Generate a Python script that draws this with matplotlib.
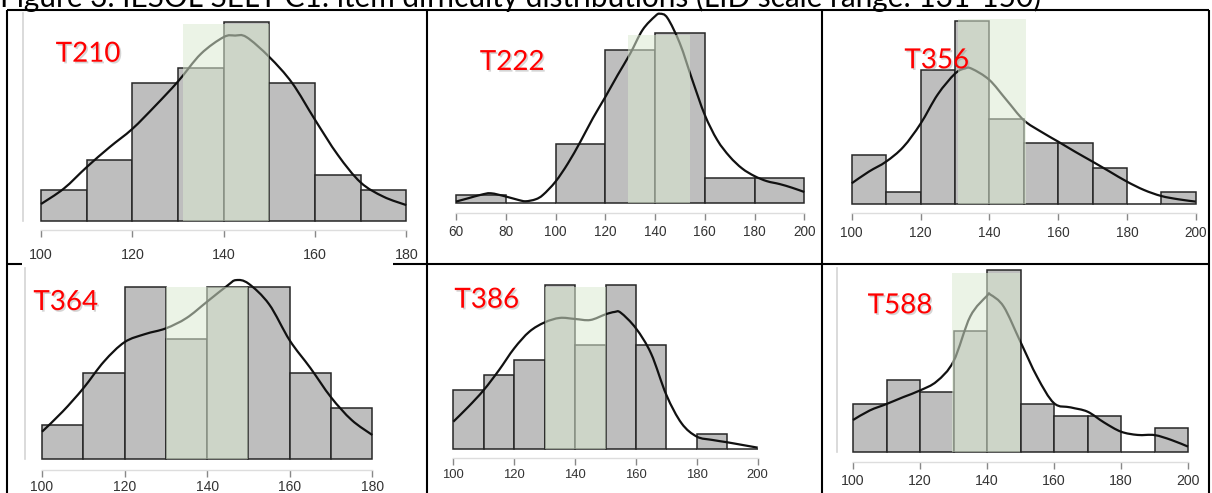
import numpy as np
import matplotlib.pyplot as plt
import matplotlib.patheffects as pe
from matplotlib.path import Path
from matplotlib.patches import PathPatch, Rectangle
from matplotlib.lines import Line2D

# ---- data ----
title = 'Figure 3. IESOL SELT C1: item difficulty distributions (LID scale range: 131-150)'
names = ['T210', 'T222', 'T356', 'T364', 'T386', 'T588']

edges_t210 = [100, 110, 120, 130, 140, 150, 160, 170, 180]
counts_t210 = [2, 4, 9, 10, 13, 9, 3, 2]
edges_t222 = [60, 80, 100, 120, 140, 160, 180, 200]
counts_t222 = [1, 0, 7, 18, 20, 3, 3]
edges_t356 = [100, 110, 120, 130, 140, 150, 160, 170, 180, 190, 200]
counts_t356 = [4, 1, 11, 15, 7, 5, 5, 3, 0, 1]
edges_t364 = [100, 110, 120, 130, 140, 150, 160, 170, 180]
counts_t364 = [2, 5, 10, 7, 10, 10, 5, 3]
edges_t386 = [100, 110, 120, 130, 140, 150, 160, 170, 180, 190, 200]
counts_t386 = [4, 5, 6, 11, 7, 11, 7, 0, 1, 0]
edges_t588 = [100, 110, 120, 130, 140, 150, 160, 170, 180, 190, 200]
counts_t588 = [4, 6, 5, 10, 15, 4, 3, 3, 0, 2]

# density curves (scaled to counts)
dx_t210 = [100, 105, 110, 115, 120, 125, 130, 135, 140, 142.5, 145, 150, 155, 160, 165, 170, 175, 180]
dy_t210 = [1.09, 2.1, 3.5, 4.8, 6.0, 7.5, 9.1, 10.9, 12.0, 12.1, 12.0, 10.7, 9.0, 6.6, 4.3, 2.5, 1.57, 1.02]
dx_t222 = [60, 65, 70, 74, 80, 85, 88, 92, 95, 100, 105, 110, 115, 120, 125, 130, 135, 140, 142,
           145, 150, 155, 160, 165, 170, 175, 180, 185, 190, 195, 200]
dy_t222 = [0.2, 0.6, 1.0, 1.18, 0.8, 0.4, 0.24, 0.47, 1.0, 2.55, 4.7, 7.25, 10.0, 12.5, 15.1, 17.6, 20.4,
           22.0, 22.3, 21.8, 18.8, 14.5, 10.4, 7.45, 5.5, 4.1, 3.2, 2.6, 2.27, 1.84, 1.33]
dx_t356 = [100, 105, 110, 115, 120, 125, 130, 133, 135, 140, 145, 150, 155, 160, 165, 170, 175, 180,
           185, 190, 195, 200]
dy_t356 = [1.72, 2.68, 3.5, 4.7, 6.6, 9.0, 10.7, 11.15, 11.1, 10.2, 8.55, 6.9, 5.96, 5.14, 4.3, 3.5,
           2.68, 1.86, 1.17, 0.68, 0.41, 0.22]
dx_t364 = [100, 105, 110, 115, 120, 125, 130, 135, 140, 145, 147, 150, 155, 160, 165, 170, 175, 180]
dy_t364 = [1.6, 2.77, 4.12, 5.67, 6.8, 7.27, 7.6, 8.2, 9.15, 10.1, 10.4, 10.2, 9.0, 6.9, 5.3, 3.6, 2.28, 1.41]
dx_t386 = [100, 105, 110, 115, 120, 125, 130, 135, 140, 145, 150, 153, 155, 160, 165, 170, 175, 180,
           185, 190, 195, 200]
dy_t386 = [1.85, 2.86, 3.97, 5.3, 6.76, 7.88, 8.5, 8.8, 8.73, 8.66, 9.04, 9.2, 9.15, 8.1, 6.4, 3.64,
           1.74, 0.85, 0.63, 0.47, 0.29, 0.11]
dx_t588 = [100, 105, 110, 115, 120, 125, 130, 135, 140, 141, 145, 150, 155, 160, 165, 170, 175, 180,
           185, 190, 195, 200]
dy_t588 = [2.66, 3.45, 3.98, 4.55, 5.1, 5.85, 7.5, 11.2, 12.9, 13.0, 12.0, 9.1, 6.2, 4.05, 3.7, 3.35,
           2.45, 1.7, 1.43, 1.42, 1.02, 0.47]

# highlighted LID range (low, high, height in counts)
band_t210 = [131, 150, 12.85]
band_t222 = [129.3, 154, 19.8]
band_t356 = [130.8, 150.7, 15.2]
band_t364 = [130, 150, 9.98]
band_t386 = [130, 150, 10.85]
band_t588 = [129.7, 150, 14.75]

ticks_t210 = [100, 120, 140, 160, 180]
ticks_t222 = [60, 80, 100, 120, 140, 160, 180, 200]
ticks_t356 = [100, 120, 140, 160, 180, 200]
ticks_t364 = [100, 120, 140, 160, 180]
ticks_t386 = [100, 120, 140, 160, 180, 200]
ticks_t588 = [100, 120, 140, 160, 180, 200]

edges = [edges_t210, edges_t222, edges_t356, edges_t364, edges_t386, edges_t588]
counts = [counts_t210, counts_t222, counts_t356, counts_t364, counts_t386, counts_t588]
dens_x = [dx_t210, dx_t222, dx_t356, dx_t364, dx_t386, dx_t588]
dens_y = [dy_t210, dy_t222, dy_t356, dy_t364, dy_t386, dy_t588]
bands = [band_t210, band_t222, band_t356, band_t364, band_t386, band_t588]
ticks = [ticks_t210, ticks_t222, ticks_t356, ticks_t364, ticks_t386, ticks_t588]

# ---- layout in pixels ----
W, H = 1212, 493
# first tick x, last tick x, baseline y, px per count, top y, axis gap, left line x, label size, pad
layout = [
    (41.0, 406.3, 220.7, 15.3, 11, 9.3, 23, 10.3, 8.0),
    (456.0, 804.3, 203.3, 8.5, 11, 10.0, None, 9.8, 4.0),
    (851.7, 1195.7, 204.3, 12.2, 11, 8.7, None, 9.8, 5.0),
    (42.0, 372.3, 459.3, 17.23, 266, 10.7, 25, 10.0, 2.8),
    (453.3, 757.7, 449.3, 14.93, 266, 9.0, None, 9.4, 3.0),
    (853.0, 1188.0, 452.3, 12.13, 266, 10.0, 836.7, 10.2, 4.0),
]
# label centre x, label baseline y
name_pos = [(88, 61.7), (512, 70), (936.7, 68.3), (65.7, 310), (486.7, 307.7), (900, 313.3)]


def fx(x):
    return x / W


def fy(y):
    return 1 - y / H


def smooth_path(xs, ys):
    # catmull-rom through the read points, drawn as cubic beziers
    pts = np.column_stack([xs, ys]).astype(float)
    verts = [pts[0]]
    codes = [Path.MOVETO]
    for i in range(len(pts) - 1):
        p0 = pts[max(i - 1, 0)]
        p1, p2 = pts[i], pts[i + 1]
        p3 = pts[min(i + 2, len(pts) - 1)]
        verts += [p1 + (p2 - p0) / 6, p2 - (p3 - p1) / 6, p2]
        codes += [Path.CURVE4] * 3
    return Path(verts, codes)


fig = plt.figure(figsize=(W / 100, H / 100), dpi=100)

for i in range(6):
    x0, x1, base, ppc, top, gap, lline, lsize, pad = layout[i]
    ax = fig.add_axes([fx(x0), fy(base), (x1 - x0) / W, (base - top) / H])
    ax.set_xlim(ticks[i][0], ticks[i][-1])
    ax.set_ylim(0, (base - top) / ppc)
    ax.patch.set_alpha(0)

    e = edges[i]
    ax.bar(e[:-1], counts[i], width=np.diff(e), align='edge', color='#bebebe',
           edgecolor='#262626', linewidth=1.1, zorder=2, clip_on=False)
    ax.add_patch(PathPatch(smooth_path(dens_x[i], dens_y[i]), fill=False, edgecolor='#111111',
                           linewidth=1.6, zorder=3, clip_on=False))
    lo, hi, bt = bands[i]
    ax.add_patch(Rectangle((lo, 0), hi - lo, bt, facecolor='#dae9d1', alpha=0.54,
                           linewidth=0, zorder=5, clip_on=False))

    for s in ['top', 'right']:
        ax.spines[s].set_visible(False)
    ax.spines['bottom'].set_position(('outward', gap * 0.72))
    ax.spines['bottom'].set_bounds(ticks[i][0], ticks[i][-1])
    ax.spines['bottom'].set_color('#dddddd')
    ax.spines['bottom'].set_linewidth(1.0)
    if lline is None:
        ax.spines['left'].set_visible(False)
    else:
        ax.spines['left'].set_position(('outward', (x0 - lline) * 0.72))
        ax.spines['left'].set_bounds(0, (base - top - 2) / ppc)
        ax.spines['left'].set_color('#d4d4d4')
        ax.spines['left'].set_linewidth(1.2)
    ax.set_xticks(ticks[i])
    ax.set_xticklabels([str(t) for t in ticks[i]])
    ax.tick_params(axis='x', direction='out', length=4.7, width=1.0, color='#888888',
                   labelsize=lsize, labelcolor='#333333', pad=pad)
    for lab in ax.get_xticklabels():
        lab.set_family('Liberation Sans')
    ax.tick_params(axis='y', left=False, labelleft=False)

    nx, ny = name_pos[i]
    fig.text(fx(nx), fy(ny), names[i], color='#ff0000', fontsize=20, family='Lato',
             ha='center', va='baseline', zorder=10,
             path_effects=[pe.SimplePatchShadow(offset=(1.2, -1.2), shadow_rgbFace='#888888', alpha=0.35),
                           pe.Normal()])

# table borders
border = dict(color='black', linewidth=1.5, solid_capstyle='butt')
fig.add_artist(Line2D([fx(7), fx(1209)], [fy(9.5), fy(9.5)], **border))
fig.add_artist(Line2D([fx(7), fx(22)], [fy(263.5), fy(263.5)], **border))
fig.add_artist(Line2D([fx(393), fx(1209)], [fy(263.5), fy(263.5)], **border))
for xv in [7, 427, 822, 1209]:
    fig.add_artist(Line2D([fx(xv), fx(xv)], [fy(9.5), fy(493)], **border))

# title, cut off by the top edge as in the original
t = fig.text(0.0, fy(6.5), title, fontsize=16, family='Lato', ha='left', va='baseline')
fig.canvas.draw()
w = t.get_window_extent().width
t.set_fontsize(16 * 1043 / w)

fig.savefig('out.png', dpi=100)
